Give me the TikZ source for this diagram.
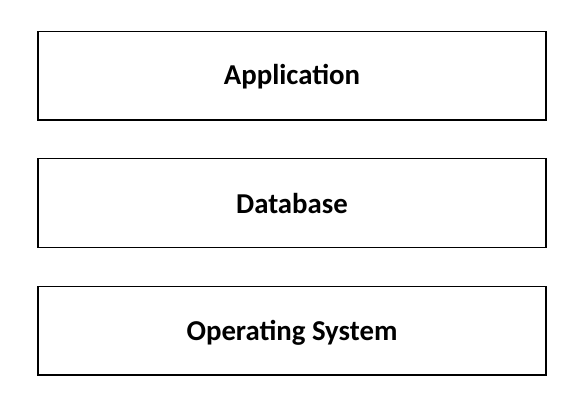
\documentclass[tikz,border=0pt]{standalone}
\usepackage{fontspec}
\setmainfont{Carlito}
\begin{document}
\begin{tikzpicture}[x=1pt,y=1pt,
  layer/.style={draw=black, line width=1.7pt, fill=white, minimum width=508.5pt, minimum height=88.5pt, inner sep=0pt, text depth=6pt, font=\fontsize{28.8}{32}\selectfont\bfseries}]
\useasboundingbox (0,0) rectangle (580,412);
\node[layer, text height=24pt] (app) at (292,336.3) {Application};
\node[layer, minimum height=89pt, text height=26.6pt] (db) at (292,209) {Database};
\node[layer, text height=24.6pt] (os) at (292,81.1) {Operating System};
\end{tikzpicture}
\end{document}
